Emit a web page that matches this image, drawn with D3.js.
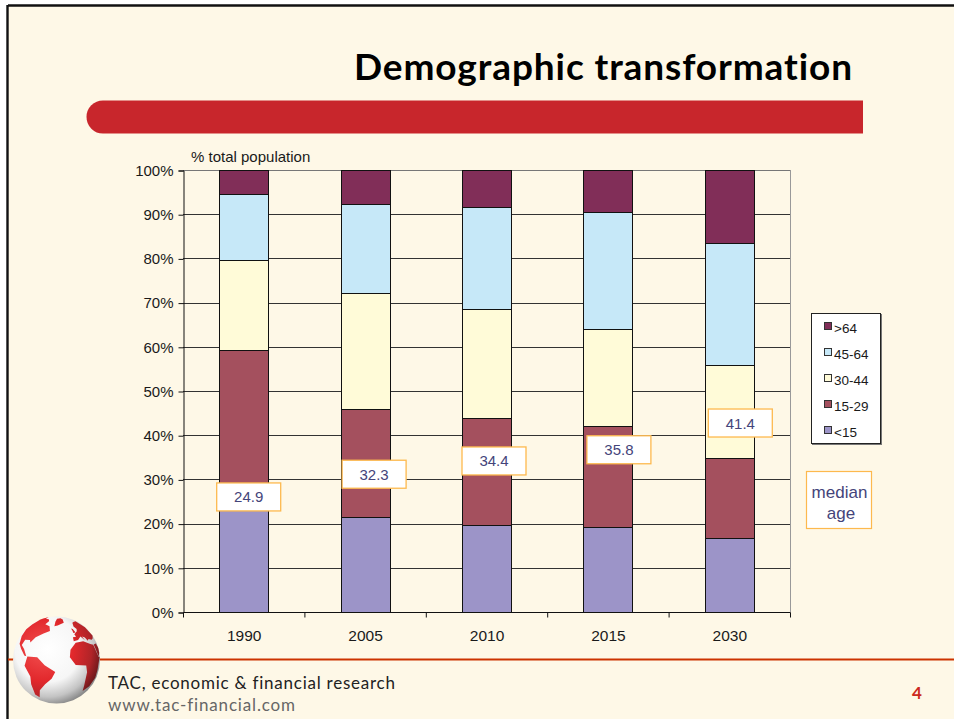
<!DOCTYPE html>
<html><head><meta charset="utf-8">
<script src="https://cdn.jsdelivr.net/npm/d3@7"></script>
<style>html,body{margin:0;padding:0;background:#fff}svg{display:block}text{font-family:"Liberation Sans",Arial,sans-serif;font-variant-ligatures:none}</style>
</head><body><svg id="c" width="954" height="719"></svg>
<script>
const years = ["1990","2005","2010","2015","2030"];
const groups = ["<15","15-29","30-44","45-64",">64"];
const under15 = [23.0,21.5,19.7,19.2,16.7];
const age15to29 = [36.3,24.4,24.2,22.8,18.1];
const age30to44 = [20.3,26.3,24.7,22.0,21.1];
const age45to64 = [15.0,20.1,23.0,26.5,27.6];
const over64 = [5.4,7.7,8.4,9.5,16.5];
const medianAge = [24.9,32.3,34.4,35.8,41.4];
const colors = ["#9c94c8","#a4505e","#fffbd8","#c6e8f8","#812e58"];
const yTicks = [0,10,20,30,40,50,60,70,80,90,100];

const svg = d3.select("#c");
const W=954,H=719;
// Slide
svg.append("rect").attr("x",7).attr("y",5).attr("width",W-7).attr("height",H-5).attr("fill","#fef8e7");
svg.append("line").attr("x1",8).attr("x2",W).attr("y1",5.5).attr("y2",5.5).attr("stroke","#111").attr("stroke-width",2.4);
svg.append("line").attr("x1",7.5).attr("x2",7.5).attr("y1",5).attr("y2",H).attr("stroke","#111").attr("stroke-width",2.4);
svg.append("text").attr("x",354).attr("y",80).attr("textLength",498).attr("lengthAdjust","spacing")
  .style("font-family","Lato").style("font-weight","bold").style("font-size","37px").attr("fill","#000").text("Demographic transformation");
svg.append("path").attr("d","M863,100.5H103a16.5,16.5 0 0 0 0,33H863Z").attr("fill","#c8262c");

// Chart
const x = d3.scaleBand().domain(years).range([183,790]).paddingInner(0).paddingOuter(0);
const y = d3.scaleLinear().domain([0,100]).range([612,170]);
const grid = svg.append("g");
grid.selectAll("line").data(yTicks.filter(d=>d>0)).join("line")
  .attr("x1",183).attr("x2",790).attr("y1",d=>Math.round(y(d))+.5).attr("y2",d=>Math.round(y(d))+.5)
  .attr("stroke",d=>d===100?"#777":"#333").attr("stroke-width",1);
svg.append("line").attr("x1",790.5).attr("x2",790.5).attr("y1",170).attr("y2",612).attr("stroke","#999");

const series = [under15,age15to29,age30to44,age45to64,over64];
const rows = years.map((yr,i)=>{const r={year:yr};groups.forEach((g,k)=>r[g]=series[k][i]);return r;});
const stacked = d3.stack().keys(groups)(rows);
const barW = 49;
svg.append("g").selectAll("g").data(stacked).join("g").attr("fill",(d,i)=>colors[i])
  .selectAll("rect").data(d=>d).join("rect")
  .attr("x",d=>Math.round(x(d.data.year)+x.bandwidth()/2-barW/2)+.5)
  .attr("width",barW)
  .attr("y",d=>Math.round(y(d[1]))+.5)
  .attr("height",d=>Math.round(y(d[0]))-Math.round(y(d[1])))
  .attr("stroke","#111").attr("stroke-width",1);

const yAxis = svg.append("g").attr("transform","translate(183.5,0.5)")
  .call(d3.axisLeft(y).tickValues(yTicks).tickFormat(d=>d+"%").tickSize(5).tickPadding(5));
const xAxis = svg.append("g").attr("transform","translate(0.5,612.5)")
  .call(d3.axisBottom(x).tickSize(0).tickPadding(17));
[yAxis,xAxis].forEach(a=>{a.selectAll("path").attr("stroke","#111");a.selectAll("line").attr("stroke","#111");
  a.selectAll("text").style("font-size","15px").attr("fill","#1a1a1a").style("font-family","'Liberation Sans'");});
xAxis.selectAll("text").style("font-size","15.5px");
xAxis.select("path").attr("d","M183,0H790");
xAxis.selectAll(".bound").data(d3.range(years.length+1)).join("line").attr("class","bound")
  .attr("x1",i=>183+i*x.bandwidth()).attr("x2",i=>183+i*x.bandwidth()).attr("y1",0).attr("y2",5).attr("stroke","#111");
svg.append("text").attr("x",191).attr("y",162).style("font-size","15px").attr("fill","#1a1a1a").text("% total population");

// Median age labels
const boxDx=[5,9,7.5,11,11], boxDy=[-5,5,1,-4,-6];
const mg = svg.append("g").selectAll("g").data(medianAge).join("g")
  .attr("transform",(d,i)=>`translate(${x(years[i])+x.bandwidth()/2+boxDx[i]},${y(d)+boxDy[i]})`);
mg.append("rect").attr("x",-32).attr("y",-14).attr("width",64).attr("height",28).attr("fill","#fff").attr("stroke","#fdb94e").attr("stroke-width",1.3);
mg.append("text").attr("text-anchor","middle").attr("y",5.5).style("font-size","15px").attr("fill","#44447a").text(d=>d.toFixed(1));

// Legend
const lg = svg.append("g");
lg.append("rect").attr("x",812).attr("y",314).attr("width",70).attr("height",131).attr("fill","#777");
lg.append("rect").attr("x",811.5).attr("y",313.5).attr("width",69).attr("height",130).attr("fill","#fff").attr("stroke","#222");
const order = groups.slice().reverse();
const lr = lg.selectAll("g").data(order).join("g").attr("transform",(d,i)=>`translate(824,${322+i*26})`);
lr.append("rect").attr("x",.5).attr("y",.5).attr("width",7).attr("height",7).attr("fill",d=>colors[groups.indexOf(d)]).attr("stroke","#333");
lr.append("text").attr("x",10).attr("y",11).style("font-size","13.5px").attr("fill","#1a1a1a").text(d=>d);

// Median-age key
svg.append("rect").attr("x",806.5).attr("y",471.5).attr("width",65).attr("height",57).attr("fill","#fff").attr("stroke","#fdb94e").attr("stroke-width",1.2);
svg.append("text").attr("x",839.5).attr("y",498).attr("text-anchor","middle").style("font-size","17px").attr("fill","#44447a").text("median");
svg.append("text").attr("x",841).attr("y",519).attr("text-anchor","middle").style("font-size","17px").attr("fill","#44447a").text("age");

// Footer
svg.append("line").attr("x1",8).attr("x2",W).attr("y1",659.5).attr("y2",659.5).attr("stroke","#cc3300").attr("stroke-width",2);
svg.append("text").attr("x",108).attr("y",689).attr("textLength",287).attr("lengthAdjust","spacing").style("font-family","Lato").style("font-size","17px").attr("fill","#222").text("TAC, economic & financial research");
svg.append("text").attr("x",108).attr("y",711).attr("textLength",187).attr("lengthAdjust","spacing").style("font-family","Lato").style("font-size","17px").attr("fill","#666").text("www.tac-financial.com");
svg.append("text").attr("x",917).attr("y",699).attr("text-anchor","middle").style("font-family","Lato").style("font-weight","bold").style("font-size","17px").attr("fill","#cc2a20").text("4");

// Globe
const defs = svg.append("defs");
const gw = defs.append("radialGradient").attr("id","ocean").attr("cx","40%").attr("cy","38%").attr("r","68%");
[[0,"#ffffff"],[.55,"#f6f6f6"],[.8,"#c4c4c4"],[1,"#777777"]].forEach(s=>gw.append("stop").attr("offset",s[0]).attr("stop-color",s[1]));
const gr = defs.append("radialGradient").attr("id","land").attr("gradientUnits","userSpaceOnUse").attr("cx",42).attr("cy",650).attr("r",62);
[[0,"#f25050"],[.5,"#e2282c"],[.8,"#b02428"],[1,"#5e1618"]].forEach(s=>gr.append("stop").attr("offset",s[0]).attr("stop-color",s[1]));
const land = [
 // North America
 [[-165,62],[-155,71],[-125,70],[-95,72],[-80,68],[-78,60],[-62,58],[-55,50],[-65,44],[-76,36],[-81,27],[-84,30],[-95,28],[-97,20],[-88,16],[-80,8],[-84,8],[-95,15],[-105,20],[-115,30],[-124,40],[-125,50],[-140,60],[-165,55]],
 // Greenland
 [[-50,60],[-42,62],[-22,70],[-20,80],[-40,84],[-65,80],[-55,70]],
 // South America
 [[-78,8],[-62,10],[-50,1],[-35,-6],[-39,-16],[-48,-26],[-58,-38],[-66,-55],[-74,-50],[-72,-30],[-71,-18],[-81,-5]],
 // Africa
 [[-17,15],[-16,25],[-6,35],[10,37],[25,32],[33,30],[43,12],[51,11],[40,-5],[40,-16],[32,-28],[20,-35],[15,-25],[12,-5],[9,4],[-8,5]],
 // Europe & Asia (west)
 [[-9,37],[-9,43],[-2,44],[-4,48],[6,53],[10,57],[6,62],[18,70],[30,71],[60,70],[60,40],[45,38],[36,37],[26,39],[22,37],[18,42],[12,44],[15,38],[8,44],[0,39]],
 // Britain
 [[-5,50],[1,51],[-2,57],[-6,58],[-5,54]],
 // Arabia
 [[35,30],[48,30],[58,22],[52,16],[43,13]]
];
const globeR=43.5, globeC=[56.5,660];
const proj = d3.geoOrthographic().translate(globeC).scale(globeR).rotate([35,-10,-6]).clipAngle(90);
const gp = d3.geoPath(proj);
function landShape(c){
  const ring=c.concat([c[0]]);
  let g={type:"Polygon",coordinates:[ring]};
  if(d3.geoArea(g)>2*Math.PI) g={type:"Polygon",coordinates:[ring.slice().reverse()]};
  return g;
}
svg.append("circle").attr("cx",globeC[0]).attr("cy",globeC[1]).attr("r",globeR).attr("fill","url(#ocean)");
svg.append("g").selectAll("path").data(land).join("path")
  .attr("d",c=>gp(landShape(c)))
  .attr("fill","url(#land)");
</script></body></html>
